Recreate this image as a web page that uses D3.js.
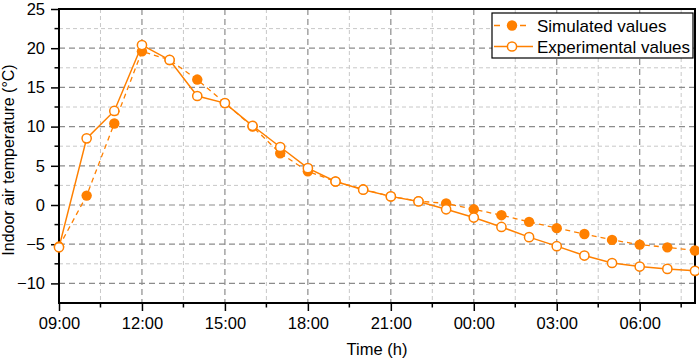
<!DOCTYPE html>
<html>
<head>
<meta charset="utf-8">
<script src="https://cdn.jsdelivr.net/npm/d3@7"></script>
<style>
  body { margin: 0; background: #fff; }
  svg { font-family: "Liberation Sans", Arial, sans-serif; }
</style>
</head>
<body>
<div id="chart"></div>
<script>
// hours after 09:00
const hours = d3.range(0, 24);
const simulated = [-5.3, 1.2, 10.4, 19.6, 18.5, 16.0, 13.0, 10.0, 6.6, 4.3, 3.0, 2.0, 1.1, 0.5,
    0.2, -0.55, -1.3, -2.15, -2.95, -3.7, -4.45, -5.05, -5.4, -5.8];
const experimental = [-5.4, 8.5, 12.0, 20.4, 18.5, 13.9, 13.0, 10.1, 7.4, 4.7, 3.0, 1.95, 1.1, 0.45,
    -0.55, -1.6, -2.8, -4.1, -5.25, -6.45, -7.4, -7.85, -8.15, -8.4];
const xTickLabels = ["09:00", "12:00", "15:00", "18:00", "21:00", "00:00", "03:00", "06:00"];
const yTicks = [-10, -5, 0, 5, 10, 15, 20, 25];

const width = 699, height = 363;
const margin = {top: 9, right: 4, bottom: 60, left: 59};
const w = width - margin.left - margin.right,
    h = height - margin.top - margin.bottom;
const orange = "#ff8000";
const fontFamily = "'Liberation Sans', Arial, sans-serif";
const fontsize = 16.5;

const svg = d3.select("#chart").append("svg")
    .attr("width", width)
    .attr("height", height)
    .append("g")
    .attr("transform", `translate(${margin.left},${margin.top})`);

const xScale = d3.scaleLinear().domain([0, 23]).range([0, w]);
const yScale = d3.scaleLinear().domain([-12.5, 25]).range([h, 0]);

// grid
const minorX = d3.range(1.5, 23, 3), majorX = d3.range(0, 23, 3);
const minorY = d3.range(-7.5, 25, 5), majorY = yTicks;
const grid = svg.append("g").attr("class", "grid");
grid.selectAll(".gx-minor").data(minorX).enter().append("line")
    .attr("x1", d => xScale(d)).attr("x2", d => xScale(d))
    .attr("y1", 0).attr("y2", h)
    .attr("stroke", "#c8c8c8").attr("stroke-width", 1).attr("stroke-dasharray", "4,3");
grid.selectAll(".gy-minor").data(minorY).enter().append("line")
    .attr("y1", d => yScale(d)).attr("y2", d => yScale(d))
    .attr("x1", 0).attr("x2", w)
    .attr("stroke", "#c8c8c8").attr("stroke-width", 1).attr("stroke-dasharray", "4,3");
grid.selectAll(".gx-major").data(majorX.filter(d => d > 0)).enter().append("line")
    .attr("x1", d => xScale(d)).attr("x2", d => xScale(d))
    .attr("y1", 0).attr("y2", h)
    .attr("stroke", "#8c8c8c").attr("stroke-width", 1.2).attr("stroke-dasharray", "6,4");
grid.selectAll(".gy-major").data(majorY.filter(d => d < 25)).enter().append("line")
    .attr("y1", d => yScale(d)).attr("y2", d => yScale(d))
    .attr("x1", 0).attr("x2", w)
    .attr("stroke", "#8c8c8c").attr("stroke-width", 1.2).attr("stroke-dasharray", "6,4");

// axes
const axisX = d3.axisBottom(xScale)
    .tickValues(majorX)
    .tickSize(8)
    .tickPadding(6)
    .tickFormat((d, i) => xTickLabels[i]);
const axisY = d3.axisLeft(yScale)
    .tickValues(yTicks)
    .tickSize(8)
    .tickPadding(6);

const gx = svg.append("g").attr("transform", `translate(0,${h})`).call(axisX);
const gy = svg.append("g").call(axisY);
[gx, gy].forEach(g => {
    g.select(".domain").remove();
    g.selectAll("line").attr("stroke", "#000").attr("stroke-width", 1.5);
    g.selectAll("text").attr("font-size", fontsize).attr("fill", "#000")
        .attr("font-family", fontFamily);
});
// minor ticks
svg.append("g").selectAll("line").data(minorX).enter().append("line")
    .attr("x1", d => xScale(d)).attr("x2", d => xScale(d))
    .attr("y1", h).attr("y2", h + 4.5)
    .attr("stroke", "#000").attr("stroke-width", 1.5);
svg.append("g").selectAll("line").data(minorY).enter().append("line")
    .attr("y1", d => yScale(d)).attr("y2", d => yScale(d))
    .attr("x1", 0).attr("x2", -4.5)
    .attr("stroke", "#000").attr("stroke-width", 1.5);

// frame
svg.append("rect")
    .attr("width", w).attr("height", h)
    .attr("fill", "none").attr("stroke", "#000").attr("stroke-width", 2);

// labels
svg.append("text")
    .attr("x", w / 2).attr("y", h + 52)
    .attr("text-anchor", "middle")
    .attr("font-size", fontsize)
    .attr("font-family", fontFamily)
    .text("Time (h)");
svg.append("text")
    .attr("transform", `translate(${-45}, ${h / 2 + 4}) rotate(-90)`)
    .attr("text-anchor", "middle")
    .attr("font-size", 16)
    .attr("font-family", fontFamily)
    .text("Indoor air temperature (°C)");

// series
const content = svg.append("g");
const line = d3.line().x((d, i) => xScale(hours[i])).y(d => yScale(d));
content.append("path")
    .attr("d", line(simulated))
    .attr("fill", "none").attr("stroke", orange).attr("stroke-width", 1.3)
    .attr("stroke-dasharray", "5,4");
content.append("path")
    .attr("d", line(experimental))
    .attr("fill", "none").attr("stroke", orange).attr("stroke-width", 1.5);
content.selectAll(".sim").data(simulated).enter().append("circle")
    .attr("cx", (d, i) => xScale(hours[i])).attr("cy", d => yScale(d))
    .attr("r", 5.2).attr("fill", orange);
content.selectAll(".exp").data(experimental).enter().append("circle")
    .attr("cx", (d, i) => xScale(hours[i])).attr("cy", d => yScale(d))
    .attr("r", 4.6).attr("fill", "#fff").attr("stroke", orange).attr("stroke-width", 1.5);

// legend
const lg = svg.append("g").attr("transform", `translate(${492 - margin.left},${13 - margin.top})`);
lg.append("rect").attr("width", 201).attr("height", 45)
    .attr("fill", "#fff").attr("stroke", "#000").attr("stroke-width", 1.2);
const items = [
    {label: "Simulated values", dash: "5,4", fill: orange},
    {label: "Experimental values", dash: null, fill: "#fff"}
];
items.forEach((it, i) => {
    const y = 12.5 + i * 21;
    const g = lg.append("g");
    g.append("line").attr("x1", 2).attr("x2", 41).attr("y1", y).attr("y2", y)
        .attr("stroke", orange).attr("stroke-width", 1.5)
        .attr("stroke-dasharray", it.dash ? "6,7" : null);
    g.append("circle").attr("cx", 20).attr("cy", y).attr("r", i === 0 ? 5.2 : 4.6)
        .attr("fill", it.fill).attr("stroke", i === 0 ? "none" : orange).attr("stroke-width", 1.5);
    g.append("text").attr("x", 45).attr("y", y + 6)
        .attr("font-size", 17)
        .attr("font-family", fontFamily)
        .text(it.label);
});
</script>
</body>
</html>
